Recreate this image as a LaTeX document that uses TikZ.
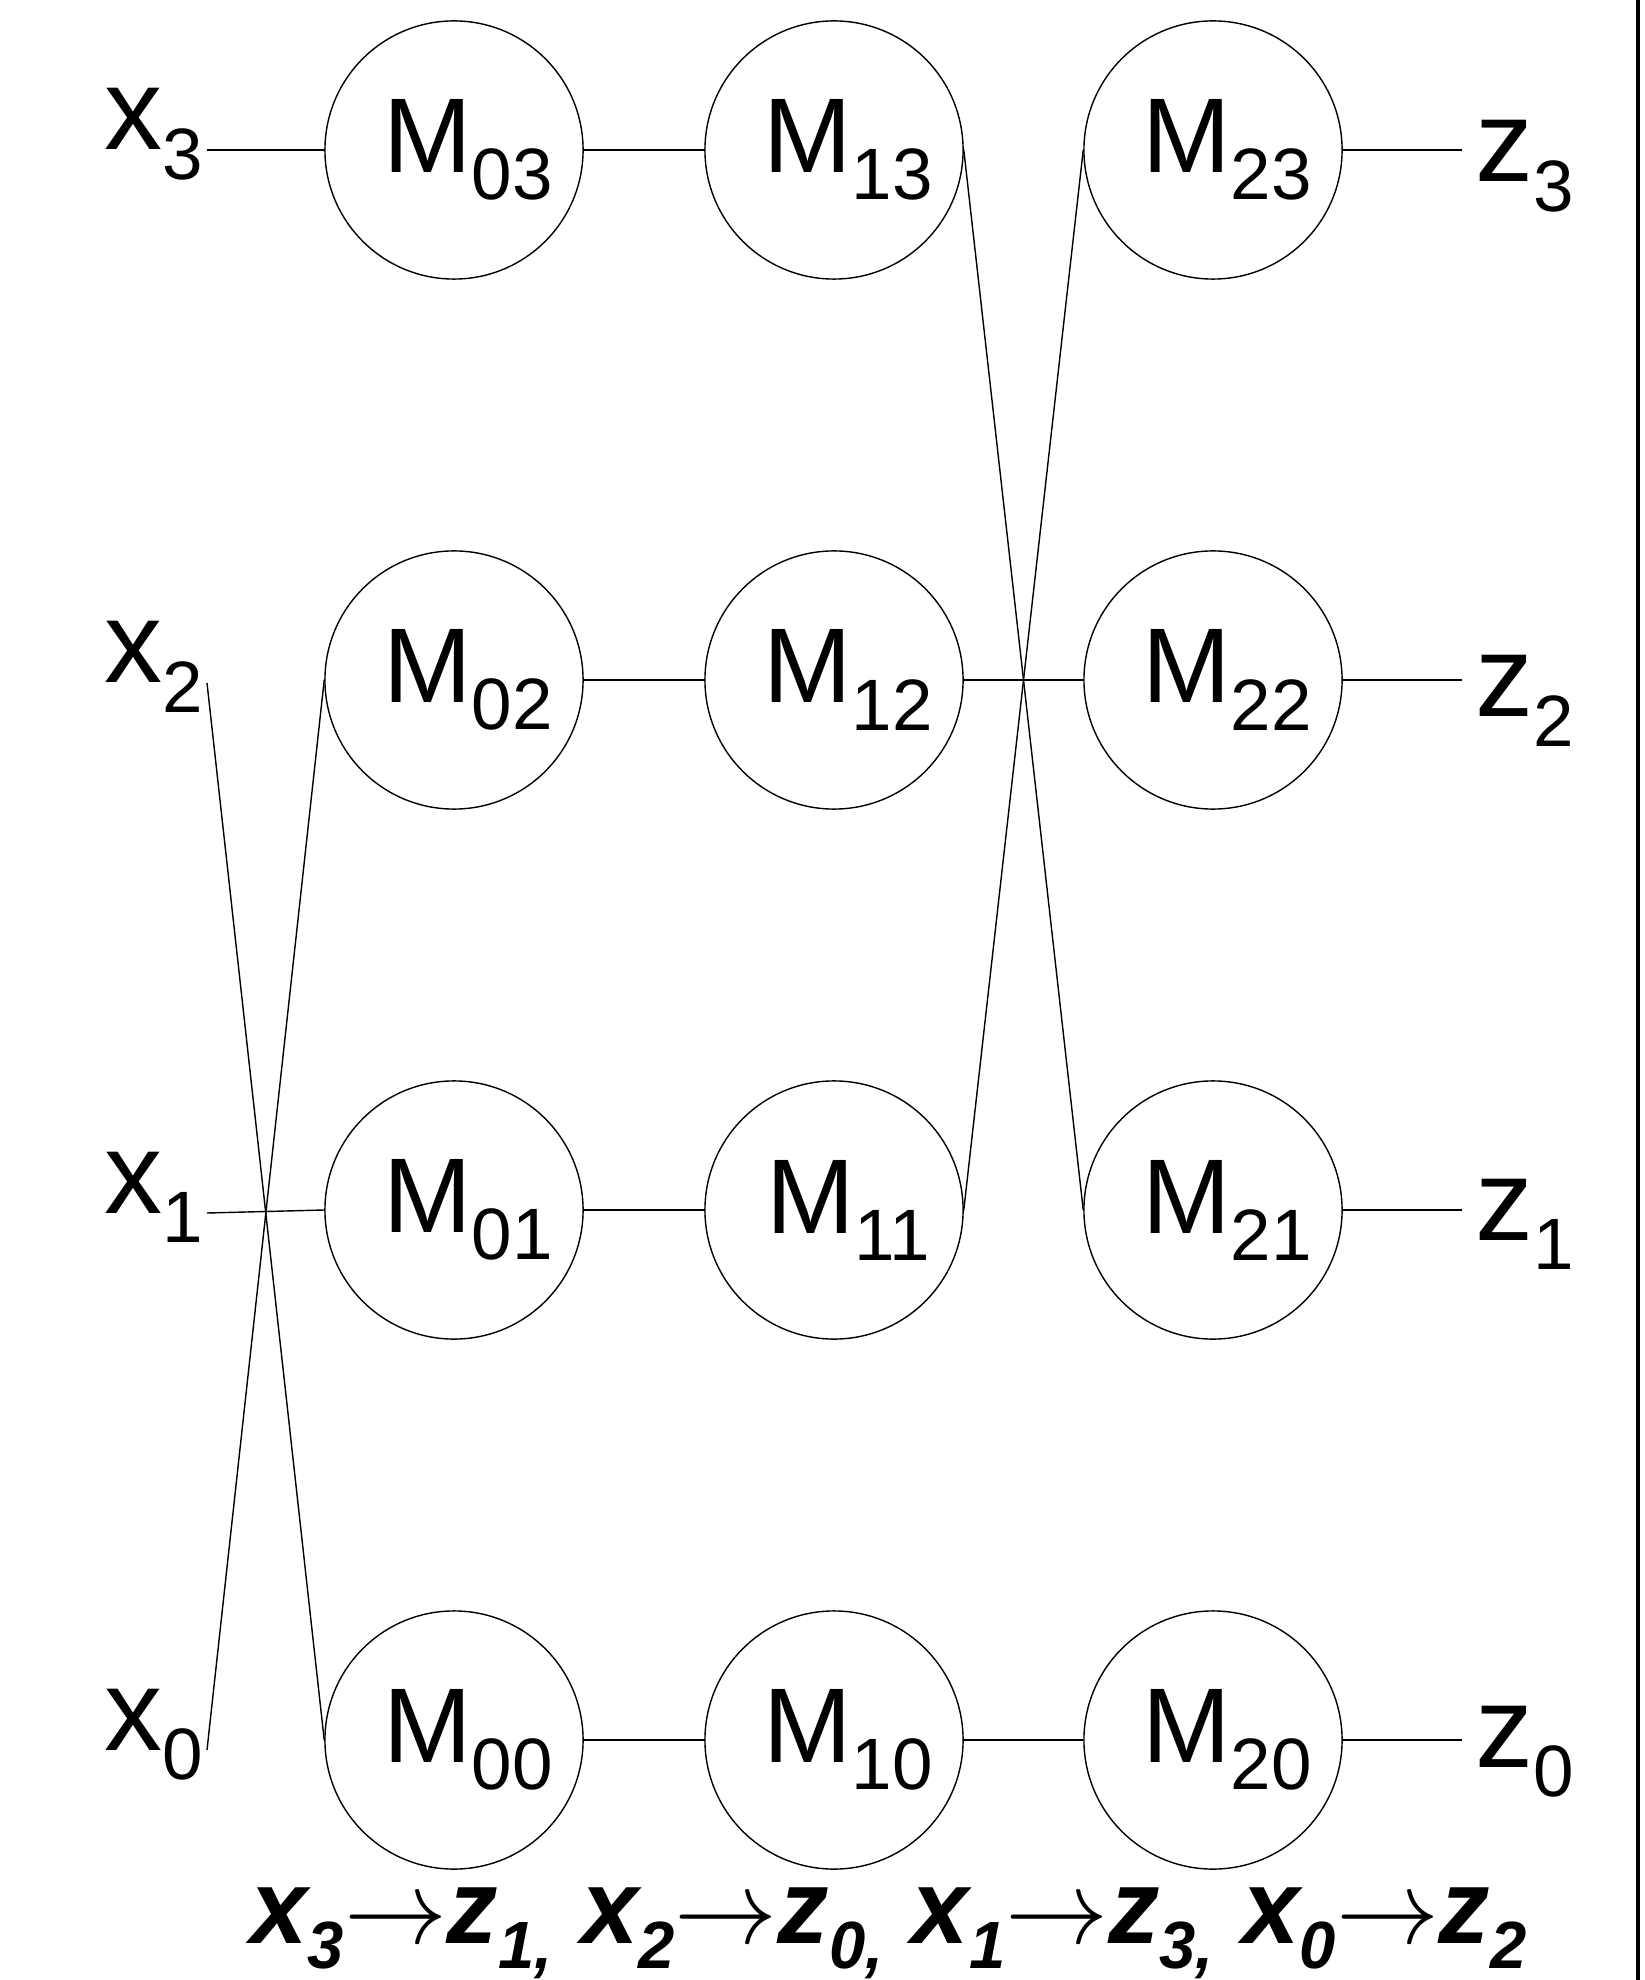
\RequirePackage{fix-cm}
\documentclass[tikz,border=0pt]{standalone}
\usepackage{fontspec}
\setmainfont{Liberation Sans}
\usetikzlibrary{calc}

\newcommand{\lsub}[1]{\raisebox{-8.5pt}{\fontsize{20.7}{24}\selectfont #1}}
\newcommand{\msub}[1]{\raisebox{-7.7pt}{\fontsize{20.7}{24}\selectfont #1}}
\newcommand{\rsub}[1]{\raisebox{-7.2pt}{\fontsize{19}{22}\selectfont #1}}
\newcommand{\goesto}{${\rightarrow}$}

\begin{document}
\begin{tikzpicture}[x=0.01cm, y=-0.01cm, line width=0.4pt,
		mod/.style={draw, circle, minimum size=2.58cm, inner sep=0pt, font=\fontsize{30.2}{36}\selectfont},
		inlbl/.style={anchor=base east, inner sep=1pt, font=\fontsize{33}{40}\selectfont},
		outlbl/.style={anchor=base west, inner xsep=3.5pt, inner ysep=1pt, font=\fontsize{33}{40}\selectfont}]
		\useasboundingbox (0,0) rectangle (1644,1980);
		% inputs
		\node[inlbl] (x3) at (207,150)  {x\lsub{3}};
		\node[inlbl] (x2) at (207,683)  {x\lsub{2}};
		\node[inlbl] (x1) at (207,1213) {x\lsub{1}};
		\node[inlbl] (x0) at (207,1750) {x\lsub{0}};
		% first column of modules
		\node[mod] (M03) at (454,150)  {\hspace*{8pt}M\msub{03}};
		\node[mod] (M02) at (454,680)  {\hspace*{8pt}M\msub{02}};
		\node[mod] (M01) at (454,1210) {\hspace*{8pt}M\msub{01}};
		\node[mod] (M00) at (454,1740) {\hspace*{8pt}M\msub{00}};
		% second column
		\node[mod] (M13) at (834,150)  {\hspace*{8pt}M\msub{13}};
		\node[mod] (M12) at (834,680)  {\hspace*{8pt}M\msub{12}};
		\node[mod] (M11) at (834,1210) {\hspace*{8pt}M\msub{11}};
		\node[mod] (M10) at (834,1740) {\hspace*{8pt}M\msub{10}};
		% third column
		\node[mod] (M23) at (1213,150)  {\hspace*{8pt}M\msub{23}};
		\node[mod] (M22) at (1213,680)  {\hspace*{8pt}M\msub{22}};
		\node[mod] (M21) at (1213,1210) {\hspace*{8pt}M\msub{21}};
		\node[mod] (M20) at (1213,1740) {\hspace*{8pt}M\msub{20}};
		% outputs
		\node[outlbl] (z3) at (1462,182)  {z\lsub{3}};
		\node[outlbl] (z2) at (1462,717)  {z\lsub{2}};
		\node[outlbl] (z1) at (1462,1240) {z\lsub{1}};
		\node[outlbl] (z0) at (1462,1767) {z\lsub{0}};
		% inputs to first column (x2 and x0 cross over)
		\draw (x3.base east) -- (M03.west);
		\draw (x2.base east) -- (M00.west);
		\draw (x1.base east) -- (M01.west);
		\draw (x0.base east) -- (M02.west);
		% first to second column
		\draw (M03.east) -- (M13.west);
		\draw (M02.east) -- (M12.west);
		\draw (M01.east) -- (M11.west);
		\draw (M00.east) -- (M10.west);
		% second to third column (13 and 11 cross over)
		\draw (M13.east) -- (M21.west);
		\draw (M12.east) -- (M22.west);
		\draw (M11.east) -- (M23.west);
		\draw (M10.east) -- (M20.west);
		% third column to outputs
		\draw (M23.east) -- (M23.east -| z3.west);
		\draw (M22.east) -- (M22.east -| z2.west);
		\draw (M21.east) -- (M21.east -| z1.west);
		\draw (M20.east) -- (M20.east -| z0.west);
		% resulting routing
		\node[anchor=base west, inner sep=0pt, font=\fontsize{30}{36}\selectfont\bfseries\itshape] (route) at (250,1943)
			{\resizebox{12.75cm}{\height}{x\rsub{3}\goesto z\rsub{1,} x\rsub{2}\goesto z\rsub{0,} x\rsub{1}\goesto z\rsub{3,} x\rsub{0}\goesto z\rsub{2}}};
		% frame edge on the right
		\draw[line width=1.4pt] (1638,0) -- (1638,1980);
	\end{tikzpicture}
\end{document}
